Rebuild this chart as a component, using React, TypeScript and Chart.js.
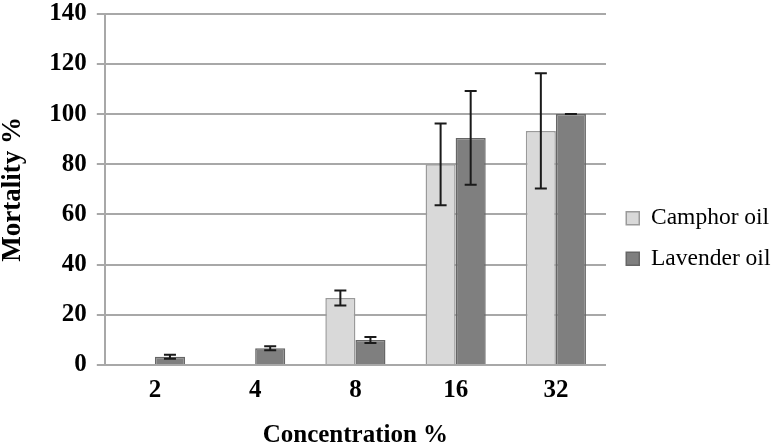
import React, { useEffect, useRef } from 'react';
import { Chart, registerables } from 'chart.js';

Chart.register(...registerables);

const categories = ['2', '4', '8', '16', '32'];
const seriesNames = ['Camphor oil', 'Lavender oil'];
const camphorValues = [0, 0, 26.7, 80, 93.3];
const camphorErrors: (number | null)[] = [null, null, 3, 16.3, 23];
const lavenderValues = [3.3, 6.7, 10, 90.5, 100];
const lavenderErrors: (number | null)[] = [0.8, 0.8, 1.2, 18.7, 0];
const yTicks = [0, 20, 40, 60, 80, 100, 120, 140];

const SERIF = "'Liberation Serif', 'Times New Roman', serif";
const GRID = '#a8a8a8';
const LEG_DX = 3.25;
const LEG_DY = 16;

const errorBarsPlugin = {
  id: 'errorBars',
  afterDatasetsDraw(chart: any) {
    const ctx = chart.ctx;
    const yScale = chart.scales.y;
    chart.data.datasets.forEach((ds: any, i: number) => {
      const meta = chart.getDatasetMeta(i);
      const errs = ds.errors || [];
      meta.data.forEach((bar: any, j: number) => {
        const v = ds.data[j];
        const e = errs[j];
        if (v == null || e == null) return;
        const x = bar.x;
        const yt = yScale.getPixelForValue(v + e);
        const yb = yScale.getPixelForValue(v - e);
        const cap = 6;
        ctx.save();
        ctx.strokeStyle = '#1a1a1a';
        ctx.lineWidth = 2;
        ctx.beginPath();
        ctx.moveTo(x, yt);
        ctx.lineTo(x, yb);
        ctx.moveTo(x - cap, yt);
        ctx.lineTo(x + cap, yt);
        ctx.moveTo(x - cap, yb);
        ctx.lineTo(x + cap, yb);
        ctx.stroke();
        ctx.restore();
      });
    });
  },
};

const legendShiftPlugin = {
  id: 'legendShift',
  afterLayout(chart: any) {
    const lg = chart.legend;
    if (!lg) return;
    lg.left += LEG_DX;
    lg.right += LEG_DX;
    lg.top += LEG_DY;
    lg.bottom += LEG_DY;
  },
};

export default function App() {
  const ref = useRef<HTMLCanvasElement | null>(null);

  useEffect(() => {
    if (!ref.current) return;
    const chart = new Chart(ref.current, {
      type: 'bar',
      data: {
        labels: categories,
        datasets: [
          {
            label: seriesNames[0],
            data: camphorValues,
            errors: camphorErrors,
            backgroundColor: '#d9d9d9',
            borderColor: '#9a9a9a',
            borderWidth: 1.5,
            categoryPercentage: 0.6,
            barPercentage: 1.0,
          } as any,
          {
            label: seriesNames[1],
            data: lavenderValues,
            errors: lavenderErrors,
            backgroundColor: '#7f7f7f',
            borderColor: '#666666',
            borderWidth: 1.5,
            categoryPercentage: 0.6,
            barPercentage: 1.0,
          } as any,
        ],
      },
      options: {
        animation: false,
        responsive: true,
        maintainAspectRatio: false,
        layout: { padding: 0 },
        plugins: {
          tooltip: { enabled: false },
          legend: {
            position: 'right',
            align: 'center',
            maxWidth: 168,
            labels: {
              boxWidth: 13,
              boxHeight: 13,
              padding: 17,
              color: '#000',
              font: { family: SERIF, size: 23.5 },
            },
          },
        },
        scales: {
          x: {
            grid: { display: false, drawTicks: false },
            border: { display: false },
            ticks: {
              color: '#000',
              padding: 11,
              font: { family: SERIF, size: 25, weight: 'bold' },
            },
            title: {
              display: true,
              text: 'Concentration %',
              color: '#000',
              padding: { top: 6, bottom: -3 },
              font: { family: SERIF, size: 25, weight: 'bold', lineHeight: 1.0 },
            },
          },
          y: {
            min: 0,
            max: 140,
            afterBuildTicks(scale: any) {
              scale.ticks = yTicks.map((v) => ({ value: v }));
            },
            grid: { color: GRID, lineWidth: 2, drawTicks: true, tickLength: 8 },
            border: { display: true, color: GRID, width: 2 },
            ticks: {
              color: '#000',
              padding: 10,
              font: { family: SERIF, size: 25, weight: 'bold', lineHeight: 0.3 },
            },
            title: {
              display: true,
              text: 'Mortality %',
              color: '#000',
              padding: { top: 0, bottom: 12.3 },
              font: { family: SERIF, size: 27, weight: 'bold', lineHeight: 1.0 },
            },
          },
        },
      },
      plugins: [errorBarsPlugin, legendShiftPlugin],
    });
    return () => chart.destroy();
  }, []);

  return (
    <div style={{ position: 'absolute', left: 0, top: 0, width: 774, height: 445 }}>
      <canvas ref={ref} />
    </div>
  );
}
